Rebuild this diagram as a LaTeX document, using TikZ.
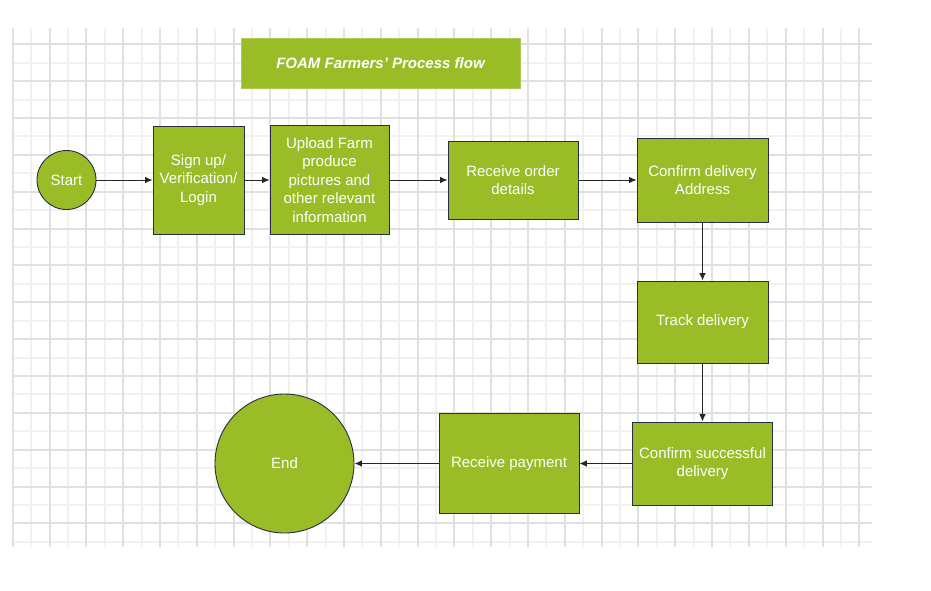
\documentclass[tikz,border=0pt]{standalone}
\usepackage{fontspec}
\setmainfont{Liberation Sans}
\usetikzlibrary{arrows.meta}
\definecolor{leaf}{RGB}{154,188,38}
\definecolor{edge}{RGB}{40,44,70}
\definecolor{gridmaj}{RGB}{224,224,224}
\definecolor{gridmin}{RGB}{241,241,241}
\begin{document}
\begin{tikzpicture}[x=1pt,y=-1pt,
  every node/.style={font=\fontsize{15}{18.6}\selectfont, text=white, align=center, inner sep=1pt},
  proc/.style={rectangle, fill=leaf, draw=edge, line width=0.9pt},
  term/.style={circle, fill=leaf, draw=edge, line width=0.9pt},
  flow/.style={draw=black!85, line width=1pt, -{Latex[length=7.5pt,width=6.5pt]}}]
\useasboundingbox (0,0) rectangle (931,590);
\fill[white] (0,0) rectangle (931,590);
% grid
\begin{scope}
\clip (12,28) rectangle (872,547);
\foreach \k in {0,...,23} {
  \draw[gridmin, line width=1.2pt] ({round(12.7+36.81*\k+18.4)},28) -- ++(0,519);
}
\foreach \k in {0,...,14} {
  \draw[gridmin, line width=1.2pt] (12,{round(44.3+36.85*\k-18.4)}) -- ++(860,0);
}
\foreach \k in {0,...,23} {
  \draw[gridmaj, line width=1.3pt] ({round(12.7+36.81*\k)},28) -- ++(0,519);
}
\foreach \k in {0,...,13} {
  \draw[gridmaj, line width=1.3pt] (12,{round(44.3+36.85*\k)}) -- ++(860,0);
}
\end{scope}
% title
\node[rectangle, fill=leaf, draw=leaf!80!white, line width=0.6pt, minimum width=279pt, minimum height=50pt,
  font=\fontsize{15}{18}\selectfont\bfseries\itshape] (title) at (380.5,63) {FOAM Farmers' Process flow};
% nodes
\node[term, minimum size=59pt] (start) at (66.5,180) {Start};
\node[proc, minimum width=91pt, minimum height=108pt] (signup) at (198.5,180) {Sign up/\\Verification/\\Login};
\node[proc, minimum width=119pt, minimum height=109pt] (upload) at (329.5,180) {Upload Farm\\produce\\pictures and\\other relevant\\information};
\node[proc, minimum width=130pt, minimum height=78pt] (order) at (513,180) {Receive order\\details};
\node[proc, minimum width=131pt, minimum height=84pt] (confirm) at (702.5,180) {Confirm delivery\\Address};
\node[proc, minimum width=131pt, minimum height=82pt] (track) at (702.5,322) {Track delivery};
\node[proc, minimum width=140pt, minimum height=83pt] (success) at (702.5,463.5) {Confirm successful\\delivery};
\node[proc, minimum width=140pt, minimum height=100pt] (payment) at (509,463.5) {Receive payment};
\node[term, minimum size=139pt] (end) at (284.5,463.5) {End};
% connectors
\draw[flow] (start) -- (signup);
\draw[flow] (signup) -- (upload);
\draw[flow] (upload) -- (order);
\draw[flow] (order) -- (confirm);
\draw[flow] (confirm) -- (track);
\draw[flow] (track) -- (success);
\draw[flow] (success) -- (payment);
\draw[flow] (payment) -- (end);
\end{tikzpicture}
\end{document}
